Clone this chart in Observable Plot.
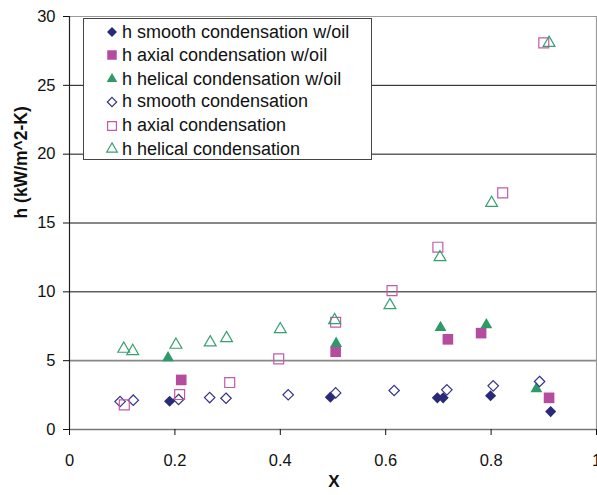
<!DOCTYPE html>
<html>
<head>
<meta charset="utf-8">
<script src="https://cdn.jsdelivr.net/npm/d3@7"></script>
<script src="https://cdn.jsdelivr.net/npm/@observablehq/plot@0.6"></script>
<style>
  html, body { margin: 0; padding: 0; background: #fff; }
  #wrap { position: relative; width: 597px; height: 495px; overflow: hidden; font-family: "Liberation Sans", Arial, sans-serif; }
  #legend { position: absolute; left: 83px; top: 18px; width: 287px; height: 140px; border: 1px solid #444; background: #fff; box-sizing: content-box; }
  .row { position: absolute; left: 0; height: 20px; display: flex; align-items: center; font-size: 18px; color: #111; white-space: nowrap; }
  .row svg { margin-left: 22px; margin-right: 4px; overflow: visible; }
</style>
</head>
<body>
<div id="wrap"><div id="chart"></div><div id="legend"></div></div>
<script>
// Data (X, h in kW/m^2-K)
const smoothOilX  = [0.19, 0.495, 0.698, 0.709, 0.799, 0.913];
const smoothOilY  = [2.05, 2.35, 2.3, 2.3, 2.45, 1.3];
const axialOilX   = [0.212, 0.505, 0.718, 0.781, 0.910];
const axialOilY   = [3.6, 5.65, 6.55, 7.0, 2.3];
const helicalOilX = [0.187, 0.506, 0.704, 0.791, 0.886];
const helicalOilY = [5.2, 6.25, 7.4, 7.6, 2.95];
const smoothX  = [0.096, 0.121, 0.207, 0.266, 0.297, 0.415, 0.505, 0.616, 0.716, 0.804, 0.892];
const smoothY  = [2.03, 2.13, 2.18, 2.32, 2.27, 2.52, 2.66, 2.83, 2.88, 3.17, 3.49];
const axialX   = [0.104, 0.209, 0.304, 0.397, 0.505, 0.612, 0.699, 0.822, 0.900];
const axialY   = [1.79, 2.54, 3.41, 5.13, 7.79, 10.09, 13.24, 17.19, 28.08];
const helicalX = [0.103, 0.12, 0.202, 0.267, 0.298, 0.400, 0.503, 0.608, 0.703, 0.801, 0.910];
const helicalY = [5.86, 5.69, 6.15, 6.32, 6.63, 7.28, 7.94, 9.03, 12.51, 16.45, 28.08];

const seriesNames = [
  "h smooth condensation w/oil",
  "h axial condensation w/oil",
  "h helical condensation w/oil",
  "h smooth condensation",
  "h axial condensation",
  "h helical condensation"
];
const xTicks = [0, 0.2, 0.4, 0.6, 0.8, 1];
const yTicks = [0, 5, 10, 15, 20, 25, 30];
const gridDark = [10, 15, 20, 25];
const gridGray = [5];
const xTitle = "X";
const yTitle = "h (kW/m^2-K)";

const navy = "#2b2a78", magenta = "#b64c9e", green = "#2e9a68";
const styles = [
  {symbol: "diamond2", r: 5.0, fill: navy, stroke: "none"},
  {symbol: "square", r: 6.0, fill: magenta, stroke: "none"},
  {symbol: "triangle", r: 4.4, fill: green, stroke: "none"},
  {symbol: "diamond2", r: 4.7, fill: "none", stroke: "#33338a"},
  {symbol: "square", r: 5.6, fill: "none", stroke: "#c25aaa"},
  {symbol: "triangle", r: 4.4, fill: "none", stroke: "#38a070"}
];
const xs = [smoothOilX, axialOilX, helicalOilX, smoothX, axialX, helicalX];
const ys = [smoothOilY, axialOilY, helicalOilY, smoothY, axialY, helicalY];
const series = xs.map((xa, i) => xa.map((x, j) => ({x, y: ys[i][j]})));

const chart = Plot.plot({
  width: 597,
  height: 495,
  marginLeft: 69,
  marginRight: 1,
  marginTop: 16,
  marginBottom: 66,
  style: {fontFamily: "Liberation Sans, Arial, sans-serif", fontSize: "16.5px", color: "#111", background: "#fff", overflow: "visible"},
  x: {domain: [0, 1]},
  y: {domain: [0, 30]},
  marks: [
    Plot.ruleY(gridDark, {stroke: "#111", strokeWidth: 1}),
    Plot.ruleY(gridGray, {stroke: "#888", strokeWidth: 1.6}),
    Plot.ruleY([30], {stroke: "#999", strokeWidth: 1.2}),
    Plot.ruleX([1], {stroke: "#999", strokeWidth: 1.2}),
    Plot.ruleY([0], {stroke: "#777", strokeWidth: 1.6}),
    Plot.ruleX([0], {stroke: "#222", strokeWidth: 1.2}),
    Plot.axisX({ticks: xTicks, tickSize: 6, tickPadding: 19, tickFormat: d => String(d), label: null}),
    Plot.axisY({ticks: yTicks, tickSize: 6, tickPadding: 8, tickFormat: d => String(d), label: null}),
    Plot.text([xTitle], {frameAnchor: "bottom", dy: 52, lineAnchor: "middle", fontWeight: "bold", fontSize: 17, dx: 1, fill: "#111"}),
    Plot.text([yTitle], {frameAnchor: "left", dx: -48, dy: -4.5, rotate: -90, lineAnchor: "middle", fontWeight: "bold", fontSize: 17.5, fill: "#111"}),
    ...series.map((d, i) => Plot.dot(d, {x: "x", y: "y", ...styles[i], strokeWidth: 1.2}))
  ]
});
document.getElementById("chart").appendChild(chart);

// Legend
const legend = d3.select("#legend");
const rowTops = [3, 26, 50, 72.5, 96.5, 120];
seriesNames.forEach((name, i) => {
  const row = legend.append("div").attr("class", "row").style("top", rowTops[i] + "px");
  const s = styles[i];
  const svg = row.append("svg").attr("width", 12).attr("height", 12);
  const sym = {diamond2: d3.symbolDiamond2, square: d3.symbolSquare, triangle: d3.symbolTriangle}[s.symbol];
  svg.append("path")
    .attr("transform", "translate(6,6)")
    .attr("d", d3.symbol(sym, Math.PI * s.r * s.r * 0.8)())
    .attr("fill", s.fill).attr("stroke", s.stroke).attr("stroke-width", 1.2);
  row.append("span").text(name);
});
</script>
</body>
</html>
